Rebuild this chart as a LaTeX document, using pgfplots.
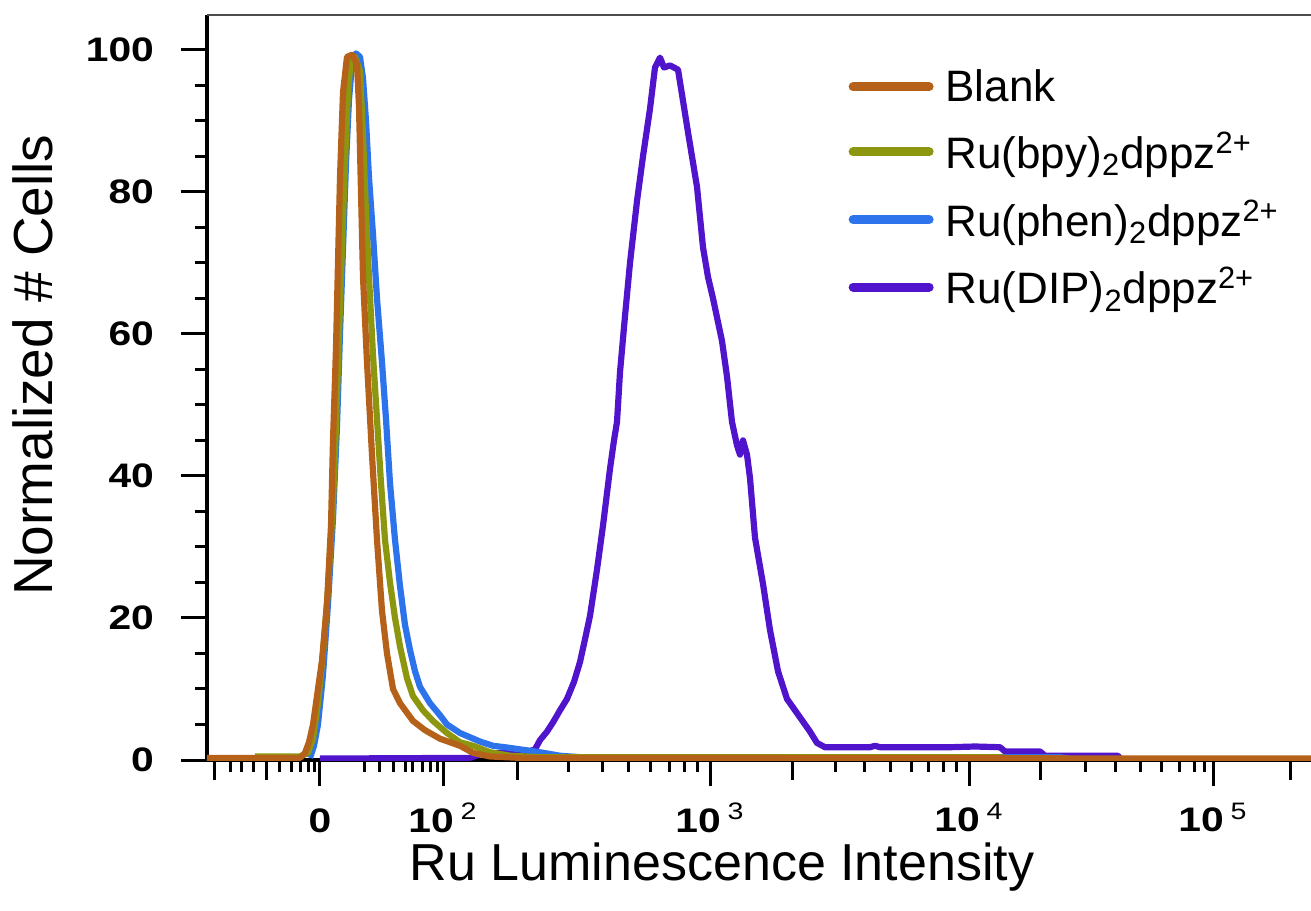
\documentclass[border=0pt]{standalone}
\usepackage{fontspec}
\setmainfont{Liberation Sans}
\usepackage{graphicx}
\usepackage{pgfplots}
\pgfplotsset{compat=1.18}

\definecolor{cblank}{RGB}{181,97,25}
\definecolor{cbpy}{RGB}{140,150,15}
\definecolor{cphen}{RGB}{45,115,235}
\definecolor{cdip}{RGB}{80,20,205}

% bold, widened tick labels
\newcommand{\tl}[1]{\scalebox{1.2}[1]{\bfseries #1}}

\begin{document}
\begin{tikzpicture}
\begin{axis}[
  scale only axis, width=561.5pt, height=372.5pt,
  xmin=207, xmax=1330, ymin=0, ymax=104.9,
  axis x line*=bottom, axis y line*=left,
  axis line style={line width=2.4pt, black},
  tick align=outside,
  major tick length=13pt, minor tick length=6pt,
  tick style={line width=1.5pt, black},
  xtick={320,443,710,969,1213},
  xticklabels={\tl{0\vphantom{\textmd{\textsuperscript{2}}}},\tl{10\,\textmd{\textsuperscript{2}}},\tl{10\,\textmd{\textsuperscript{3}}},\tl{10\,\textmd{\textsuperscript{4}}},\tl{10\,\textmd{\textsuperscript{5}}}},
  minor xtick={231,242,254,280,292,301,309,315,365,379,393,405,412,422,430,437,568,602,628,650,669,684,697,835,864,890,911,928,943,956,1085,1115,1140,1161,1179,1194,1204},
  extra x ticks={215,267,517,792,1040,1290},
  extra x tick labels={},
  extra x tick style={major tick length=10pt},
  ytick={0,20,40,60,80,100},
  yticklabels={\tl{0},\tl{20},\tl{40},\tl{60},\tl{80},\tl{100}},
  minor y tick num=3,
  tick label style={font=\fontsize{17}{20}\selectfont},
  xticklabel style={yshift=-5pt},
  yticklabel style={xshift=-10pt},
  xlabel={Ru Luminescence Intensity},
  ylabel={Normalized \# Cells},
  xlabel style={font=\fontsize{26}{30}\selectfont, at={(axis description cs:0.4586,-0.1624)}, anchor=base},
  ylabel style={font=\fontsize{27.5}{30}\selectfont, at={(axis description cs:-0.138,0.530)}, anchor=base},
  legend style={at={(axis description cs:0.571,0.933)}, anchor=north west, draw=none, fill=none,
    inner sep=0pt, font=\fontsize{22}{26}\selectfont, row sep=10pt,
    /tikz/every odd column/.append style={column sep=4pt}},
  legend cell align=left,
  reverse legend,
  legend image code/.code={\draw[#1, line width=4.5pt, line cap=round] (0pt,0pt) -- (38pt,0pt);},
  every axis plot/.append style={line width=3.1pt, line join=round},
]
\coordinate (bl) at (rel axis cs:0,0);
\draw[line width=1pt, black!70] (rel axis cs:0,1) -- (rel axis cs:1,1);

\addplot[cdip] coordinates {
(320,0.2) (470,0.3) (480,0.8) (500,1.0) (525,1.0) (535,1.5) (540,2.8) (547,4) (553,5.3) (560,7) (567,8.6) (574,11) (580,13.8) (585,17) (590,20.3) (597,26.8) (603,33) (610,41) (614,45) (617,47.6) (620,54.6) (625,62.5) (630,70) (637,78.7) (643,85) (650,91.7) (655,97.5) (660,98.9) (664,97.5) (670,97.8) (678,97.2) (682,93.7) (688,88.4) (697,80.7) (703,72.2) (708,68) (713,65) (722,59) (727,54) (732,47.6) (737,44.3) (740,43) (743,45) (747,43) (750,39.7) (755,31.3) (763,24.8) (770,18.3) (778,12.5) (787,8.6) (795,7) (803,5.4) (810,4) (817,2.4) (825,1.8) (870,1.8) (875,2) (880,1.8) (950,1.8) (975,1.9) (1000,1.8) (1005,1.2) (1040,1.2) (1045,0.6) (1118,0.6) (1120,0.2)
};
\addlegendentry{Ru(DIP)\textsubscript{2}dppz\textsuperscript{2+}}

\addplot[cphen] coordinates {
(310,0.3) (314,2) (318,5) (323,12) (328,22) (333,34) (337,47) (340,60) (343,72) (346,84) (349,93) (352,98) (356,99.5) (360,99) (363,96) (366,90) (369,82) (373,74) (377,65) (382,56) (386,48) (390,39) (395,31) (400,24.5) (405,19) (410,15.5) (415,12.5) (420,10.3) (430,8) (440,6.3) (447,5) (460,3.8) (470,3.2) (480,2.6) (493,2) (505,1.8) (520,1.5) (535,1.2) (548,0.9) (560,0.6) (580,0.4) (1060,0.4) (1070,0.2)
};
\addlegendentry{Ru(phen)\textsubscript{2}dppz\textsuperscript{2+}}

\addplot[cbpy] coordinates {
(255,0.5) (300,0.5) (308,1) (313,3) (318,8) (323,15) (328,24) (333,36) (336,47) (339,60) (342,72) (345,84) (348,94) (351,99) (355,99) (360,97) (363,88) (366,77) (369,68) (373,57) (377,48) (381,39) (385,31) (390,25) (395,20) (400,16) (407,11.5) (413,9) (423,7) (433,5.5) (447,3.8) (460,2.5) (473,2) (490,1.1) (510,0.6) (540,0.4) (1000,0.4) (1010,0.2)
};
\addlegendentry{Ru(bpy)\textsubscript{2}dppz\textsuperscript{2+}}

\addplot[cblank] coordinates {
(207,0.3) (300,0.3) (305,1) (309,2.5) (313,5) (318,10) (322,14) (327,22) (331,33) (333,45) (336,58) (338,70) (340,82) (343,94) (347,99) (352,99.3) (357,98) (359,92) (361,80) (363,68) (367,56) (372,43) (377,31) (382,21) (387,15) (393,10) (400,8) (413,5.5) (425,4.2) (440,3) (460,2) (473,1) (490,0.5) (520,0.3) (1330,0.2)
};
\addlegendentry{Blank}
\end{axis}
\pgfresetboundingbox
\path[use as bounding box] ([shift={(-103.5pt,-75pt)}]bl) rectangle ([shift={(552pt,380pt)}]bl);
\end{tikzpicture}
\end{document}
